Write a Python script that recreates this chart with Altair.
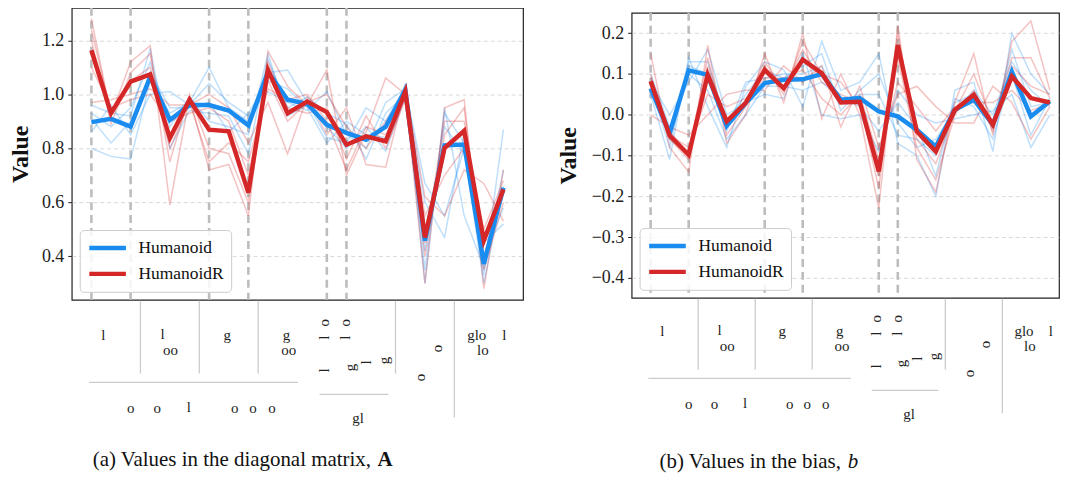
import altair as alt
import pandas as pd

# ---------------- data ----------------
idx = list(range(22))
series_names = ["Humanoid", "HumanoidR"]

# (a) diagonal matrix A
diag_humanoid_mean = [0.897, 0.909, 0.880, 1.065, 0.905, 0.960, 0.960, 0.940, 0.885, 1.083, 0.980,
                      0.965, 0.887, 0.857, 0.832, 0.880, 1.016, 0.458, 0.811, 0.814, 0.372, 0.654]
diag_humanoidR_mean = [1.163, 0.930, 1.047, 1.074, 0.838, 0.980, 0.869, 0.863, 0.636, 1.090, 0.930,
                       0.973, 0.934, 0.813, 0.844, 0.826, 1.010, 0.470, 0.801, 0.865, 0.458, 0.648]
diag_humanoid_seeds = [
    [0.80, 0.77, 0.76, 1.05, 0.93, 0.97, 1.10, 0.95, 0.90, 1.08, 1.09, 0.97, 0.84, 0.82, 0.95, 0.90, 1.03, 0.35, 0.93, 0.82, 0.33, 0.87],
    [0.96, 0.93, 0.92, 1.17, 0.80, 0.94, 0.93, 0.92, 0.78, 1.13, 0.95, 0.99, 0.93, 0.89, 0.76, 0.93, 1.00, 0.60, 0.47, 0.86, 0.40, 0.58],
    [0.86, 0.96, 0.85, 1.00, 1.01, 0.96, 1.04, 0.97, 0.92, 1.01, 0.97, 0.94, 1.01, 0.85, 0.80, 0.97, 1.02, 0.67, 0.55, 0.80, 0.30, 0.66],
    [0.93, 0.88, 0.95, 1.12, 0.88, 0.99, 0.90, 0.88, 0.85, 1.15, 0.92, 0.96, 0.88, 0.80, 0.88, 0.79, 0.99, 0.42, 0.88, 0.78, 0.45, 0.52],
    [0.91, 0.82, 0.90, 1.08, 0.95, 0.95, 0.97, 0.86, 0.93, 1.05, 1.02, 0.95, 0.82, 0.90, 0.85, 0.84, 1.04, 0.30, 0.95, 0.55, 0.36, 0.72],
]
diag_humanoidR_seeds = [
    [1.28, 0.92, 1.12, 1.18, 0.59, 0.99, 0.72, 0.74, 0.55, 1.16, 1.03, 0.96, 1.09, 0.70, 0.86, 1.06, 1.00, 0.30, 0.95, 0.98, 0.28, 0.72],
    [0.97, 0.98, 1.00, 1.02, 0.96, 0.96, 1.00, 0.95, 0.82, 0.97, 0.78, 0.99, 0.85, 0.95, 0.74, 0.73, 1.02, 0.62, 0.55, 0.72, 0.67, 0.53],
    [1.20, 0.89, 1.08, 1.15, 0.75, 1.00, 0.80, 0.78, 0.60, 1.12, 0.95, 0.93, 0.95, 0.76, 0.92, 0.80, 0.98, 0.40, 0.85, 0.95, 0.35, 0.60],
    [1.10, 0.95, 0.98, 1.00, 0.90, 0.93, 0.95, 0.90, 0.70, 1.05, 0.90, 0.97, 1.00, 0.88, 0.80, 0.90, 1.01, 0.55, 0.70, 0.80, 0.50, 0.68],
    [1.24, 0.93, 1.05, 1.10, 0.80, 0.97, 0.75, 0.82, 0.75, 1.02, 0.98, 1.00, 0.90, 0.72, 0.88, 0.85, 0.99, 0.45, 0.90, 0.90, 0.40, 0.65],
]

# (b) bias b
bias_humanoid_mean = [0.065, -0.045, 0.109, 0.098, -0.027, 0.029, 0.078, 0.086, 0.087, 0.100, 0.037,
                      0.041, 0.008, -0.004, -0.037, -0.078, 0.012, 0.037, -0.024, 0.106, -0.004, 0.033]
bias_humanoidR_mean = [0.082, -0.051, -0.098, 0.098, -0.016, 0.029, 0.110, 0.065, 0.135, 0.102, 0.030,
                       0.032, -0.139, 0.171, -0.041, -0.090, 0.012, 0.049, -0.024, 0.094, 0.041, 0.030]
bias_humanoid_seeds = [
    [0.05, -0.11, 0.14, 0.02, -0.08, 0.07, 0.13, 0.11, 0.02, 0.18, 0.06, 0.08, 0.15, -0.07, -0.10, -0.20, 0.06, 0.08, -0.09, 0.20, 0.10, 0.05],
    [0.08, 0.00, 0.08, 0.16, 0.00, 0.03, 0.05, 0.04, 0.15, 0.00, -0.01, 0.00, -0.09, 0.06, 0.00, -0.02, -0.01, 0.00, 0.01, 0.05, -0.08, 0.00],
    [0.06, -0.06, 0.12, 0.10, -0.04, 0.08, 0.09, 0.10, 0.10, 0.12, 0.03, 0.05, 0.05, -0.05, -0.06, -0.10, 0.03, 0.05, -0.03, 0.16, 0.02, 0.03],
    [0.10, -0.03, 0.10, 0.06, -0.06, 0.00, 0.07, 0.07, 0.06, 0.08, 0.04, 0.02, -0.04, 0.03, -0.03, -0.15, 0.04, 0.02, -0.06, 0.10, -0.05, 0.04],
    [0.07, -0.08, 0.13, 0.13, -0.02, 0.05, 0.11, 0.09, 0.12, 0.15, 0.01, 0.06, 0.10, -0.02, -0.08, -0.06, 0.01, 0.06, 0.00, 0.13, 0.06, 0.02],
]
bias_humanoidR_seeds = [
    [0.15, -0.08, -0.14, 0.17, -0.07, 0.00, 0.15, 0.03, 0.20, -0.01, 0.10, 0.00, -0.23, 0.22, -0.11, -0.19, 0.03, 0.15, -0.05, 0.18, 0.23, 0.06],
    [0.00, -0.03, -0.05, 0.00, 0.05, 0.06, 0.06, 0.12, 0.08, 0.12, -0.03, 0.07, -0.08, 0.05, 0.07, 0.02, -0.02, -0.02, 0.07, 0.03, -0.06, 0.02],
    [0.10, -0.06, -0.11, 0.12, -0.03, 0.03, 0.13, 0.06, 0.16, 0.08, 0.05, 0.03, -0.18, 0.20, -0.06, -0.12, 0.01, 0.10, -0.02, 0.14, 0.14, 0.04],
    [0.06, -0.05, -0.08, 0.05, 0.02, 0.04, 0.09, 0.09, 0.11, 0.04, 0.00, 0.05, -0.11, 0.08, 0.02, -0.04, 0.02, 0.03, 0.03, 0.06, 0.01, 0.03],
    [0.09, -0.04, -0.10, 0.14, -0.05, 0.02, 0.12, 0.05, 0.18, 0.10, 0.08, 0.02, -0.15, 0.14, -0.08, -0.16, 0.00, 0.06, -0.04, 0.12, 0.07, 0.05],
]

dashed_idx = [0, 2, 6, 8, 12, 13]

# hierarchical joint labels below the axis (glyphs as rendered)
upright_text = ["l", "l", "oo", "g", "g", "oo", "glo", "lo", "l"]
group_text = ["o", "o", "l", "o", "o", "o", "gl"]
rotated_text = ["o", "l", "o", "l", "l", "g", "l", "g", "o", "o"]

# ---------------- layout (positions in index units / pixel offsets below axis) ----------------
upright_pos = [0.61, 3.63, 4.03, 6.92, 9.94, 10.06, 19.64, 19.95, 21.05]
upright_off = [35, 34, 50, 35, 35, 50, 35, 50, 35]
group_pos = [2.0, 3.36, 4.97, 7.31, 8.24, 9.21, 13.59]
group_off = [109, 109, 108, 109, 109, 109, 119]
rotated_pos = [11.86, 11.86, 12.95, 12.95, 11.86, 13.17, 14.0, 14.92, 17.6, 16.76]
rotated_off = [23, 38, 23, 38, 71, 68, 63, 61, 49, 78]
vsep_pos = [2.5, 5.5, 8.5, 15.5, 18.5]
vsep_end = [74, 74, 74, 74, 118]
hsep_start = [-0.12, 11.63]
hsep_end = [10.53, 15.14]
hsep_off = [83, 95]

COLORS = ["#1a8cf0", "#d62728"]
FONT = "Liberation Serif"
GRID = "#cfcfcf"


def panel(mean_h, mean_r, seeds_h, seeds_r, ydom, yvals, xmax, W, H, shift,
          cap_main, cap_tail, tail_bold, cap_x, cap_tail_x, cap_y, min_ext):
    xs = alt.Scale(domain=[-1, xmax], nice=False, zero=False)
    ys = alt.Scale(domain=ydom, nice=False, zero=False)

    mean_df = pd.DataFrame({
        "idx": idx * 2,
        "value": mean_h + mean_r,
        "series": [series_names[0]] * 22 + [series_names[1]] * 22,
    })

    def seeds_df(seeds):
        rows = []
        for s, vals in enumerate(seeds):
            for i, v in zip(idx, vals):
                rows.append({"idx": i, "value": v, "seed": s})
        return pd.DataFrame(rows)

    rules = alt.Chart(pd.DataFrame({"idx": dashed_idx})).mark_rule(
        color="#bdbdbd", strokeWidth=2.6, strokeDash=[8, 5]
    ).encode(
        x=alt.X("idx:Q", scale=xs, axis=alt.Axis(
            values=idx, labels=False, ticks=True, tickSize=5, tickColor="#222",
            tickWidth=1, grid=True, gridColor=GRID, gridDash=[4, 3], gridWidth=0.8,
            domain=False, title=None)),
    )

    yaxis = alt.Axis(values=yvals, format=".1f", title="Value", grid=True,
                     gridColor=GRID, gridDash=[4, 3], gridWidth=0.8,
                     tickSize=4, tickColor="#222", domain=False,
                     labelFont=FONT, labelFontSize=18, labelColor="#222", labelPadding=4,
                     minExtent=min_ext, maxExtent=min_ext,
                     titleFont=FONT, titleFontSize=24, titleFontWeight="bold",
                     titleColor="#111", titlePadding=3)

    thin_h = alt.Chart(seeds_df(seeds_h)).mark_line(
        color=COLORS[0], opacity=0.28, strokeWidth=1.5
    ).encode(
        x=alt.X("idx:Q", scale=xs, axis=None),
        y=alt.Y("value:Q", scale=ys, axis=yaxis),
        detail="seed:N",
    )
    thin_r = alt.Chart(seeds_df(seeds_r)).mark_line(
        color=COLORS[1], opacity=0.28, strokeWidth=1.5
    ).encode(
        x=alt.X("idx:Q", scale=xs, axis=None),
        y=alt.Y("value:Q", scale=ys, axis=None),
        detail="seed:N",
    )
    thick = alt.Chart(mean_df).mark_line(strokeWidth=4.5).encode(
        x=alt.X("idx:Q", scale=xs, axis=None),
        y=alt.Y("value:Q", scale=ys, axis=None),
        color=alt.Color("series:N",
                        scale=alt.Scale(domain=series_names, range=COLORS),
                        legend=alt.Legend(
                            title=None, orient="bottom-left", offset=8,
                            symbolType="stroke", symbolSize=1350,
                            symbolStrokeWidth=4.5, symbolOpacity=1,
                            clipHeight=22, rowPadding=4,
                            labelFont=FONT, labelFontSize=17.5, labelColor="#111",
                            labelOffset=10, padding=7,
                            fillColor="rgba(255,255,255,0.85)",
                            strokeColor="#cccccc", cornerRadius=4)),
    )

    up_df = pd.DataFrame({"t": upright_text, "pos": upright_pos,
                          "yy": [H + o - shift for o in upright_off]})
    grp_df = pd.DataFrame({"t": group_text, "pos": group_pos,
                           "yy": [H + o - shift for o in group_off]})
    rot_df = pd.DataFrame({"t": rotated_text, "pos": rotated_pos,
                           "yy": [H + o - shift for o in rotated_off]})

    def txt(df, angle=0):
        return alt.Chart(df).mark_text(
            font=FONT, fontSize=15, color="#222", angle=angle,
            baseline="middle", align="center"
        ).encode(
            x=alt.X("pos:Q", scale=xs, axis=None),
            y=alt.Y("yy:Q", scale=None, axis=None),
            text="t:N",
        )

    vsep = alt.Chart(pd.DataFrame({
        "pos": vsep_pos, "y1": [H + 1] * len(vsep_pos),
        "y2": [H + e - shift for e in vsep_end]})).mark_rule(
        color="#cccccc", strokeWidth=1.3
    ).encode(
        x=alt.X("pos:Q", scale=xs, axis=None),
        y=alt.Y("y1:Q", scale=None, axis=None),
        y2="y2:Q",
    )
    hsep = alt.Chart(pd.DataFrame({
        "p1": hsep_start, "p2": hsep_end,
        "yy": [H + o - shift for o in hsep_off]})).mark_rule(
        color="#cccccc", strokeWidth=1.3
    ).encode(
        x=alt.X("p1:Q", scale=xs, axis=None),
        x2="p2:Q",
        y=alt.Y("yy:Q", scale=None, axis=None),
    )

    cap1 = alt.Chart(pd.DataFrame({"t": [cap_main]})).mark_text(
        font=FONT, fontSize=21, color="#111", align="left", baseline="alphabetic"
    ).encode(text="t:N", x=alt.value(cap_x), y=alt.value(cap_y))
    cap2 = alt.Chart(pd.DataFrame({"t": [cap_tail]})).mark_text(
        font=FONT, fontSize=21, color="#111", align="left", baseline="alphabetic",
        fontWeight="bold" if tail_bold else "normal",
        fontStyle="normal" if tail_bold else "italic",
    ).encode(text="t:N", x=alt.value(cap_tail_x), y=alt.value(cap_y))

    return alt.layer(
        rules, thin_h, thin_r, thick,
        vsep, hsep, txt(up_df), txt(grp_df), txt(rot_df, 270), cap1, cap2
    ).resolve_scale(y="independent").properties(width=W, height=H)


left = panel(diag_humanoid_mean, diag_humanoidR_mean, diag_humanoid_seeds, diag_humanoidR_seeds,
             [0.239, 1.32], [0.4, 0.6, 0.8, 1.0, 1.2], 22, 453, 293, 0,
             "(a) Values in the diagonal matrix,", "A", True, 21, 307, 460, 36)
right = panel(bias_humanoid_mean, bias_humanoidR_mean, bias_humanoid_seeds, bias_humanoidR_seeds,
              [-0.449, 0.25], [-0.4, -0.3, -0.2, -0.1, 0.0, 0.1, 0.2], 21.48, 429, 286, 2,
              "(b) Values in the bias,", "b", False, 28, 217, 457, 48)

spacer = alt.Chart(pd.DataFrame({"a": [0]})).mark_point(opacity=0, size=1).properties(
    width=1, height=3, view=alt.ViewBackground(stroke=None))

right_col = alt.vconcat(spacer, right, spacing=0).resolve_scale(color="independent")

chart = alt.hconcat(left, right_col, spacing=32).resolve_scale(
    color="independent"
).properties(
    padding={"left": 0, "top": -3, "right": 0, "bottom": 0}
).configure(background="white").configure_view(stroke="#222", strokeWidth=1.2)

chart.save("out.html", embed_options={"renderer": "svg", "actions": False})
